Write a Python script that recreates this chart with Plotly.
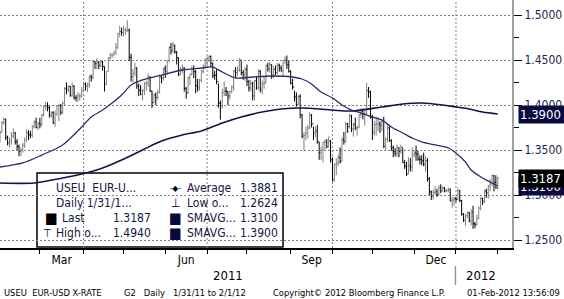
import pandas as pd
import plotly.graph_objects as go

# ---------------- data (weekly rows, Mon..Fri; 31-Jan-2011 .. 01-Feb-2012) ----------------
prev_close = 1.3610

close = [
    1.3693, 1.3805, 1.3840, 1.3640, 1.3580,
    1.3600, 1.3655, 1.3690, 1.3590, 1.3537,
    1.3485, 1.3500, 1.3555, 1.3610, 1.3690,
    1.3670, 1.3665, 1.3760, 1.3810, 1.3750,
    1.3800, 1.3785, 1.3890, 1.3985, 1.3990,
    1.3970, 1.3890, 1.3915, 1.3800, 1.3900,
    1.3990, 1.3995, 1.3920, 1.4020, 1.4185,
    1.4170, 1.4205, 1.4110, 1.4210, 1.4080,
    1.4080, 1.4100, 1.4100, 1.4160, 1.4235,
    1.4215, 1.4225, 1.4315, 1.4300, 1.4480,
    1.4460, 1.4475, 1.4440, 1.4480, 1.4430,
    1.4230, 1.4370, 1.4525, 1.4555, 1.4560,
    1.4580, 1.4640, 1.4795, 1.4815, 1.4805,
    1.4830, 1.4830, 1.4830, 1.4530, 1.4315,
    1.4350, 1.4410, 1.4210, 1.4165, 1.4115,
    1.4160, 1.4235, 1.4240, 1.4310, 1.4155,
    1.4025, 1.4110, 1.4085, 1.4140, 1.4310,
    1.4300, 1.4400, 1.4375, 1.4495, 1.4640,
    1.4600, 1.4665, 1.4590, 1.4525, 1.4340,
    1.4395, 1.4410, 1.4185, 1.4140, 1.4305,
    1.4340, 1.4395, 1.4370, 1.4215, 1.4190,
    1.4275, 1.4375, 1.4435, 1.4500, 1.4520,
    1.4540, 1.4465, 1.4330, 1.4330, 1.4260,
    1.4020, 1.3990, 1.4140, 1.4155, 1.4150,
    1.4100, 1.4150, 1.4200, 1.4380, 1.4360,
    1.4390, 1.4500, 1.4360, 1.4335, 1.4395,
    1.4260, 1.4190, 1.4240, 1.4100, 1.4270,
    1.4190, 1.4370, 1.4170, 1.4235, 1.4245,
    1.4435, 1.4400, 1.4450, 1.4330, 1.4395,
    1.4360, 1.4440, 1.4410, 1.4380, 1.4495,
    1.4495, 1.4445, 1.4375, 1.4240, 1.4200,
    1.4090, 1.4005, 1.4095, 1.3890, 1.3655,
    1.3660, 1.3685, 1.3745, 1.3885, 1.3790,
    1.3690, 1.3710, 1.3590, 1.3470, 1.3500,
    1.3585, 1.3590, 1.3535, 1.3600, 1.3390,
    1.3170, 1.3340, 1.3355, 1.3415, 1.3375,
    1.3615, 1.3595, 1.3790, 1.3760, 1.3880,
    1.3735, 1.3785, 1.3745, 1.3755, 1.3895,
    1.3930, 1.3900, 1.3905, 1.4160, 1.4145,
    1.3860, 1.3700, 1.3780, 1.3790, 1.3790,
    1.3775, 1.3815, 1.3540, 1.3620, 1.3745,
    1.3605, 1.3525, 1.3480, 1.3460, 1.3525,
    1.3485, 1.3530, 1.3360, 1.3320, 1.3235,
    1.3325, 1.3310, 1.3445, 1.3465, 1.3455,
    1.3400, 1.3395, 1.3380, 1.3340, 1.3380,
    1.3180, 1.3035, 1.2985, 1.3025, 1.3035,
    1.3005, 1.3080, 1.3045, 1.3075, 1.3045,
    1.3050, 1.3065, 1.2935, 1.2945, 1.2960,
    1.2950, 1.3050, 1.2940, 1.2785, 1.2720,
    1.2770, 1.2800, 1.2710, 1.2810, 1.2680,
    1.2670, 1.2740, 1.2855, 1.2960, 1.2930,
    1.3045, 1.3025, 1.3095, 1.3125, 1.3215,
    1.3140, 1.3080, 1.3187,
]

high = [
    1.3720, 1.3820, 1.3862, 1.3850, 1.3660,
    1.3640, 1.3700, 1.3740, 1.3700, 1.3620,
    1.3560, 1.3530, 1.3580, 1.3640, 1.3730,
    1.3720, 1.3710, 1.3780, 1.3830, 1.3860,
    1.3810, 1.3860, 1.3900, 1.4000, 1.4035,
    1.4030, 1.3990, 1.3930, 1.3930, 1.3940,
    1.4000, 1.4010, 1.4010, 1.4040, 1.4200,
    1.4250, 1.4220, 1.4210, 1.4250, 1.4220,
    1.4110, 1.4140, 1.4130, 1.4200, 1.4250,
    1.4250, 1.4250, 1.4330, 1.4340, 1.4490,
    1.4490, 1.4520, 1.4490, 1.4500, 1.4490,
    1.4430, 1.4380, 1.4530, 1.4580, 1.4570,
    1.4600, 1.4690, 1.4800, 1.4880, 1.4860,
    1.4880, 1.4860, 1.4940, 1.4850, 1.4570,
    1.4400, 1.4470, 1.4420, 1.4240, 1.4220,
    1.4180, 1.4255, 1.4270, 1.4350, 1.4320,
    1.4160, 1.4130, 1.4140, 1.4170, 1.4340,
    1.4330, 1.4420, 1.4440, 1.4500, 1.4650,
    1.4690, 1.4700, 1.4670, 1.4600, 1.4530,
    1.4420, 1.4450, 1.4420, 1.4200, 1.4320,
    1.4350, 1.4440, 1.4440, 1.4390, 1.4290,
    1.4290, 1.4390, 1.4450, 1.4520, 1.4540,
    1.4550, 1.4550, 1.4470, 1.4380, 1.4400,
    1.4240, 1.4050, 1.4180, 1.4260, 1.4200,
    1.4150, 1.4160, 1.4220, 1.4390, 1.4420,
    1.4430, 1.4520, 1.4490, 1.4390, 1.4420,
    1.4450, 1.4280, 1.4280, 1.4260, 1.4280,
    1.4320, 1.4400, 1.4390, 1.4270, 1.4320,
    1.4450, 1.4470, 1.4480, 1.4450, 1.4430,
    1.4440, 1.4470, 1.4460, 1.4440, 1.4500,
    1.4540, 1.4550, 1.4490, 1.4385, 1.4290,
    1.4160, 1.4140, 1.4110, 1.4120, 1.3900,
    1.3700, 1.3760, 1.3780, 1.3920, 1.3900,
    1.3760, 1.3760, 1.3780, 1.3590, 1.3540,
    1.3590, 1.3620, 1.3620, 1.3650, 1.3610,
    1.3420, 1.3350, 1.3410, 1.3450, 1.3530,
    1.3640, 1.3700, 1.3810, 1.3800, 1.3900,
    1.3890, 1.3800, 1.3860, 1.3770, 1.3900,
    1.3960, 1.3960, 1.3940, 1.4247, 1.4200,
    1.4160, 1.3890, 1.3820, 1.3870, 1.3860,
    1.3820, 1.3850, 1.3870, 1.3640, 1.3780,
    1.3760, 1.3620, 1.3550, 1.3520, 1.3560,
    1.3530, 1.3560, 1.3520, 1.3390, 1.3370,
    1.3420, 1.3410, 1.3530, 1.3500, 1.3550,
    1.3490, 1.3440, 1.3440, 1.3470, 1.3430,
    1.3410, 1.3200, 1.3050, 1.3060, 1.3100,
    1.3070, 1.3110, 1.3120, 1.3100, 1.3090,
    1.3070, 1.3080, 1.3070, 1.2980, 1.2980,
    1.2980, 1.3080, 1.3055, 1.2945, 1.2800,
    1.2790, 1.2820, 1.2810, 1.2840, 1.2880,
    1.2700, 1.2780, 1.2870, 1.2980, 1.2970,
    1.3060, 1.3070, 1.3110, 1.3180, 1.3230,
    1.3220, 1.3220, 1.3200,
]

low = [
    1.3580, 1.3690, 1.3780, 1.3610, 1.3550,
    1.3530, 1.3560, 1.3630, 1.3560, 1.3500,
    1.3430, 1.3430, 1.3470, 1.3520, 1.3590,
    1.3610, 1.3630, 1.3640, 1.3740, 1.3740,
    1.3720, 1.3740, 1.3760, 1.3870, 1.3940,
    1.3930, 1.3860, 1.3860, 1.3790, 1.3760,
    1.3880, 1.3820, 1.3890, 1.3900, 1.4000,
    1.4120, 1.4140, 1.4090, 1.4090, 1.4060,
    1.4040, 1.4030, 1.4050, 1.4080, 1.4140,
    1.4160, 1.4140, 1.4190, 1.4260, 1.4290,
    1.4400, 1.4400, 1.4400, 1.4420, 1.4380,
    1.4150, 1.4220, 1.4370, 1.4490, 1.4520,
    1.4540, 1.4560, 1.4620, 1.4750, 1.4770,
    1.4760, 1.4780, 1.4810, 1.4490, 1.4260,
    1.4250, 1.4320, 1.4180, 1.4100, 1.4110,
    1.4050, 1.4110, 1.4160, 1.4200, 1.4145,
    1.3967, 1.4020, 1.4000, 1.4060, 1.4130,
    1.4240, 1.4270, 1.4300, 1.4330, 1.4470,
    1.4560, 1.4580, 1.4570, 1.4450, 1.4320,
    1.4330, 1.4350, 1.4150, 1.4070, 1.4120,
    1.4220, 1.4330, 1.4300, 1.4130, 1.4150,
    1.4160, 1.4250, 1.4350, 1.4400, 1.4430,
    1.4480, 1.4420, 1.4300, 1.4280, 1.4230,
    1.3970, 1.3837, 1.3960, 1.4100, 1.4100,
    1.4000, 1.4060, 1.4130, 1.4160, 1.4300,
    1.4320, 1.4370, 1.4330, 1.4280, 1.4270,
    1.4210, 1.4150, 1.4150, 1.4050, 1.4050,
    1.4170, 1.4170, 1.4140, 1.4120, 1.4180,
    1.4240, 1.4370, 1.4360, 1.4290, 1.4300,
    1.4330, 1.4340, 1.4370, 1.4370, 1.4320,
    1.4450, 1.4400, 1.4360, 1.4230, 1.4170,
    1.4040, 1.3980, 1.4000, 1.3850, 1.3630,
    1.3495, 1.3610, 1.3630, 1.3730, 1.3750,
    1.3610, 1.3640, 1.3570, 1.3390, 1.3390,
    1.3360, 1.3490, 1.3520, 1.3530, 1.3360,
    1.3150, 1.3146, 1.3220, 1.3320, 1.3350,
    1.3370, 1.3560, 1.3580, 1.3690, 1.3740,
    1.3700, 1.3650, 1.3720, 1.3660, 1.3740,
    1.3860, 1.3840, 1.3770, 1.3900, 1.4080,
    1.3850, 1.3610, 1.3660, 1.3660, 1.3710,
    1.3690, 1.3710, 1.3520, 1.3490, 1.3590,
    1.3590, 1.3490, 1.3420, 1.3430, 1.3420,
    1.3420, 1.3460, 1.3360, 1.3290, 1.3210,
    1.3230, 1.3260, 1.3260, 1.3420, 1.3380,
    1.3380, 1.3340, 1.3330, 1.3320, 1.3260,
    1.3150, 1.3000, 1.2945, 1.2950, 1.3000,
    1.2980, 1.2990, 1.3020, 1.3040, 1.3030,
    1.3030, 1.3030, 1.2930, 1.2860, 1.2880,
    1.2920, 1.2940, 1.2920, 1.2770, 1.2700,
    1.2660, 1.2740, 1.2700, 1.2660, 1.2624,
    1.2630, 1.2660, 1.2730, 1.2830, 1.2890,
    1.2910, 1.2970, 1.2960, 1.3040, 1.3100,
    1.3040, 1.3070, 1.3060,
]

# moving averages (trading-day position, value)
sma50_pos = [0, 12, 22, 33, 43, 48, 54, 59, 64, 69, 75, 85, 96, 106, 112, 117, 124, 133, 143, 154,
             159, 164, 169, 175, 180, 185, 190, 196, 201, 206, 212, 217, 222, 229, 236, 240, 245, 248, 254, 259, 262]
sma50_val = [1.3311, 1.3356, 1.3444, 1.3556, 1.3756, 1.3867, 1.3944, 1.4022, 1.4111, 1.4222,
             1.4278, 1.4333, 1.4389, 1.4411, 1.4422, 1.4367, 1.4300, 1.4311, 1.4322, 1.4311,
             1.4289, 1.4233, 1.4144, 1.4078, 1.4000, 1.3944, 1.3911, 1.3867, 1.3833, 1.3756,
             1.3689, 1.3633, 1.3589, 1.3556, 1.3522, 1.3467, 1.3367, 1.3278, 1.3189, 1.3133, 1.3100]
sma200_pos = [0, 18, 33, 43, 54, 64, 75, 85, 96, 106, 117, 127, 138, 148, 159, 175, 185, 201, 212,
              222, 233, 240, 247, 254, 262]
sma200_val = [1.3133, 1.3133, 1.3189, 1.3233, 1.3300, 1.3389, 1.3500, 1.3600, 1.3667, 1.3711,
              1.3800, 1.3867, 1.3922, 1.3956, 1.3967, 1.3944, 1.3933, 1.3978, 1.4011, 1.4022,
              1.4000, 1.3978, 1.3956, 1.3922, 1.3900]

y_ticks = [1.25, 1.30, 1.35, 1.40, 1.45, 1.50]
month_labels = ["Mar", "Jun", "Sep", "Dec"]
month_label_starts = ["2011-03-01", "2011-06-01", "2011-09-01", "2011-12-01"]
quarter_lines = ["2011-04-01", "2011-07-01", "2011-10-03", "2012-01-02"]
year_labels = ["2011", "2012"]
year_label_dates = ["2011-07-18", "2012-01-19"]

tag_values = [1.3900, 1.3100, 1.3187]
tag_colors = ["#0a0a40", "#0a0a40", "#000000"]

legend_rows = [
    # (col1 symbol, col1 label, col1 value, col2 symbol, col2 label, col2 value)
    ("", "USEU  EUR-U...", "", "-\u25c6-", "Average", "1.3881"),
    ("", "Daily 1/31/1...", "", "\u22a5", "Low o...", "1.2624"),
    ("\u25a0", "Last", "1.3187", "\u25a0", "SMAVG...", "1.3100"),
    ("\u22a4", "High o...", "1.4940", "\u25a0", "SMAVG...", "1.3900"),
]

footer = [
    ("USEU  EUR-USD X-RATE", 2, "left"),
    ("G2   Daily   1/31/11 to 2/1/12", 122, "left"),
    ("Copyright\u00a9 2012 Bloomberg Finance L.P.", 271, "left"),
    ("01-Feb-2012 13:56:09", 562, "right"),
]

# ---------------- build ----------------
dates = pd.bdate_range("2011-01-31", "2012-02-01")
assert len(dates) == len(close) == len(high) == len(low)
opens = [prev_close] + close[:-1]

FONT = "DejaVu Sans Condensed, DejaVu Sans, sans-serif"
PW, PH = 512, 248  # plot area in px


def px(x):
    return x / PW


def py(y):
    return (PH - y) / PH


fig = go.Figure()

fig.add_trace(go.Ohlc(
    x=dates, open=opens, high=high, low=low, close=close,
    increasing=dict(line=dict(color="#7f7f7f", width=1)),
    decreasing=dict(line=dict(color="#000000", width=1)),
    tickwidth=0.5, hoverinfo="skip", showlegend=False,
))

fig.add_trace(go.Scatter(
    x=[dates[i] for i in sma200_pos], y=sma200_val, mode="lines",
    line=dict(color="#12124e", width=1.6, shape="spline", smoothing=0.8),
    hoverinfo="skip", showlegend=False,
))
fig.add_trace(go.Scatter(
    x=[dates[i] for i in sma50_pos], y=sma50_val, mode="lines",
    line=dict(color="#2c2c6c", width=1.3, shape="spline", smoothing=0.8),
    hoverinfo="skip", showlegend=False,
))

# arrow heads on the right axis ticks
fig.add_trace(go.Scatter(
    x=[1 + 6 / PW] * len(y_ticks), y=y_ticks, xaxis="x2", yaxis="y",
    mode="markers", marker=dict(symbol="triangle-right", size=6, color="black"),
    cliponaxis=False, hoverinfo="skip", showlegend=False,
))
# tag pointers
fig.add_trace(go.Scatter(
    x=[1 + 5 / PW] * len(tag_values), y=tag_values, xaxis="x2", yaxis="y",
    mode="markers", marker=dict(symbol="triangle-left", size=11, color=tag_colors),
    cliponaxis=False, hoverinfo="skip", showlegend=False,
))

# month tick positions
mstarts = pd.date_range("2011-03-01", "2012-02-01", freq="BMS")
label_vals = []
for s in month_label_starts:
    a = pd.Timestamp(s)
    b = a + pd.offsets.MonthBegin(1)
    label_vals.append(a + (b - a) / 2)

shapes = []
# legend box
shapes.append(dict(type="rect", xref="paper", yref="paper",
                   x0=px(37), x1=px(283), y0=py(247), y1=py(173),
                   line=dict(color="black", width=1.5), fillcolor="white", layer="below"))
for q in quarter_lines:
    shapes.append(dict(type="line", xref="x", yref="paper", x0=q, x1=q, y0=0, y1=1,
                       line=dict(color="#808080", width=1, dash="2px,2px"), layer="below"))

annotations = []
# legend
row_y = [188, 203, 218, 233]
c1_lab_x, c1_val_x = 54, 153
c2_sym_x, c2_lab_x, c2_val_x = 175, 185, 280
LCOL = "#15153f"
for r, (s1, l1, v1, s2, l2, v2) in enumerate(legend_rows):
    yy = py(row_y[r])
    if s1:
        sq = s1 == "\u25a0"
        annotations.append(dict(text=s1, x=px(51 if sq else 47), y=yy, xref="paper", yref="paper",
                                xanchor="center", yanchor="middle", showarrow=False,
                                font=dict(size=15 if sq else 11, color="black", family=FONT)))
    annotations.append(dict(text=l1, x=px(c1_lab_x + (6 if s1 == "\u25a0" else 0)), y=yy,
                            xref="paper", yref="paper", xanchor="left", yanchor="middle",
                            showarrow=False, font=dict(size=12, color=LCOL, family=FONT)))
    if v1:
        annotations.append(dict(text=v1, x=px(c1_val_x), y=yy, xref="paper", yref="paper",
                                xanchor="right", yanchor="middle", showarrow=False,
                                font=dict(size=12, color=LCOL, family=FONT)))
    annotations.append(dict(text=s2, x=px(c2_sym_x), y=yy, xref="paper", yref="paper",
                            xanchor="center", yanchor="middle", showarrow=False,
                            font=dict(size=15 if s2 == "\u25a0" else (8 if "\u25c6" in s2 else 12),
                                      color="#0a0a40" if s2 == "\u25a0" else "black", family=FONT)))
    annotations.append(dict(text=l2, x=px(c2_lab_x), y=yy, xref="paper", yref="paper",
                            xanchor="left", yanchor="middle", showarrow=False,
                            font=dict(size=12, color=LCOL, family=FONT)))
    annotations.append(dict(text=v2, x=px(c2_val_x), y=yy, xref="paper", yref="paper",
                            xanchor="right", yanchor="middle", showarrow=False,
                            font=dict(size=12, color=LCOL, family=FONT)))

# value tags on the right
for v, c in zip(tag_values, tag_colors):
    annotations.append(dict(text="%.4f" % v, x=px(518), y=v, xref="paper", yref="y",
                            xanchor="left", yanchor="middle", showarrow=False,
                            bgcolor=c, borderpad=1, width=44, align="left",
                            font=dict(size=13, color="white", family=FONT)))

# year labels
for t, d in zip(year_labels, year_label_dates):
    annotations.append(dict(text=t, x=d, y=py(275), xref="x", yref="paper",
                            xanchor="center", yanchor="middle", showarrow=False,
                            font=dict(size=13, color="black", family=FONT)))
annotations.append(dict(text="\u2502", x=quarter_lines[-1], y=py(275), xref="x", yref="paper",
                        xanchor="center", yanchor="middle", showarrow=False,
                        font=dict(size=16, color="#808080", family=FONT)))

for t, xx, anc in footer:
    annotations.append(dict(text=t, x=px(xx), y=py(292), xref="paper", yref="paper",
                            xanchor=anc, yanchor="middle", showarrow=False,
                            font=dict(size=9.3, color="black", family=FONT)))

fig.update_layout(
    width=564, height=299,
    margin=dict(l=0, r=52, t=0, b=51, pad=0),
    paper_bgcolor="white", plot_bgcolor="white",
    font=dict(family=FONT, size=12, color="black"),
    showlegend=False,
    xaxis=dict(
        type="date",
        range=["2011-01-31", "2012-02-10 12:00"],
        rangebreaks=[dict(bounds=["sat", "mon"])],
        rangeslider=dict(visible=False),
        showgrid=False, zeroline=False,
        showline=True, linecolor="black", linewidth=2,
        tickmode="array", tickvals=label_vals, ticktext=month_labels,
        ticks="", tickfont=dict(size=12, color="black", family=FONT),
        minor=dict(tickmode="array", tickvals=list(mstarts), ticks="outside",
                   ticklen=4, tickwidth=1, tickcolor="black", showgrid=False),
    ),
    xaxis2=dict(overlaying="x", range=[0, 1], visible=False, fixedrange=True),
    yaxis=dict(
        side="right",
        range=[1.24111, 1.51667],
        tickmode="array", tickvals=y_ticks, ticktext=["%.4f" % v for v in y_ticks],
        showgrid=True, gridcolor="#808080", gridwidth=1, griddash="2px,2px",
        zeroline=False,
        showline=True, linecolor="#a0a0a0", linewidth=2,
        ticks="outside", ticklen=8, tickwidth=1, tickcolor="black",
        tickfont=dict(size=12, color="#1b1f4f", family=FONT),
        minor=dict(tickmode="linear", tick0=1.225, dtick=0.05, ticks="outside",
                   ticklen=5, tickwidth=1, tickcolor="black", showgrid=False),
    ),
    shapes=shapes,
    annotations=annotations,
)

fig.write_html("out.html")
